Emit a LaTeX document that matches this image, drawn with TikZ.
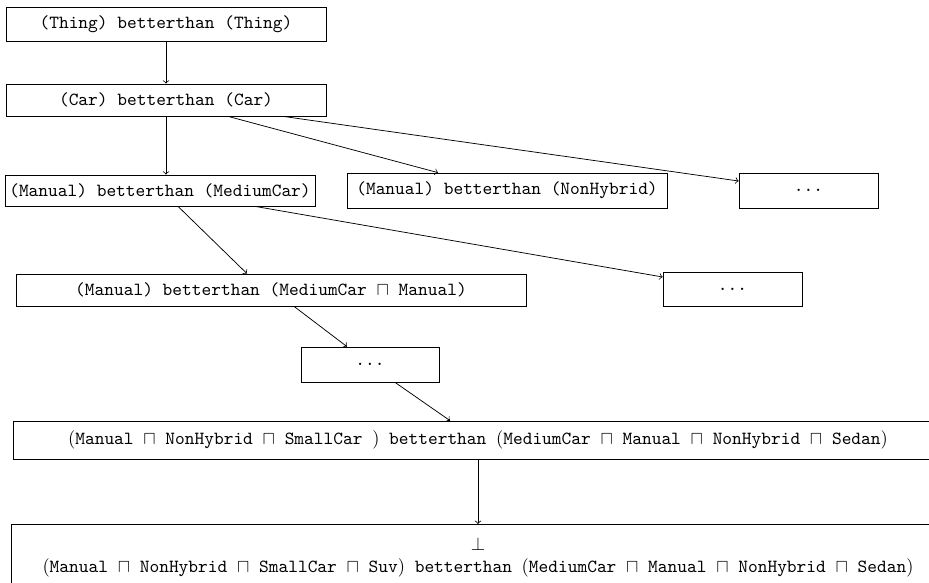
\documentclass[tikz,border=0pt]{standalone}
\usetikzlibrary{calc}
\def\pxu{0.54pt}
\tikzset{
  box/.style={draw, line width=0.4pt, font=\ttfamily, inner sep=0pt, minimum height=34*\pxu},
  conn/.style={->, line width=0.4pt},
}
\begin{document}
\begin{tikzpicture}[x=\pxu, y=-\pxu]
\path[use as bounding box, clip] (0,0) rectangle (929,583);
\node[box, minimum width=320*\pxu] (B1) at (166,24) {(Thing) betterthan (Thing)};
\node[box, minimum width=320*\pxu, minimum height=32*\pxu] (B2) at (166,100) {(Car) betterthan (Car)};
\node[box, minimum width=310*\pxu, minimum height=31*\pxu] (B3) at (160,190.5) {(Manual) betterthan (MediumCar)};
\node[box, minimum width=320*\pxu, minimum height=35*\pxu] (B4) at (507,190.5) {(Manual) betterthan (NonHybrid)};
\node[box, minimum width=139*\pxu, minimum height=35*\pxu] (B5) at (808.5,190.5) {...};
\node[box, minimum width=510*\pxu, minimum height=32*\pxu] (B6) at (271,290) {(Manual) betterthan (MediumCar $\sqcap$ Manual)};
\node[box, minimum width=139*\pxu] (B7) at (732.5,289) {...};
\node[box, minimum width=138*\pxu, minimum height=35*\pxu] (B8) at (370,364.5) {...};
\node[box, minimum width=930*\pxu, minimum height=38*\pxu] (B9) at (478,440) {$($Manual $\sqcap$ NonHybrid $\sqcap$ SmallCar $)$ betterthan $($MediumCar $\sqcap$ Manual $\sqcap$ NonHybrid $\sqcap$ Sedan$)$};
\node[box, minimum width=934*\pxu, inner xsep=0pt, inner ysep=6.9pt, align=center, anchor=north] (B10) at (478,524) {$\bot$\\$($Manual $\sqcap$ NonHybrid $\sqcap$ SmallCar $\sqcap$ Suv$)$ betterthan $($MediumCar $\sqcap$ Manual $\sqcap$ NonHybrid $\sqcap$ Sedan$)$};
\draw[conn] (B1) -- (B2);
\draw[conn] (B2.south) -- (B2.south |- B3.north);
\draw[conn] ($(B2.south)+(62,0)$) -- ($(B4.north)+(-69,0)$);
\draw[conn] ($(B2.south)+(117,0)$) -- ($(B5.west)+(0,-9.5)$);
\draw[conn] ($(B3.south)+(18,0)$) -- ($(B6.north)+(-24,0)$);
\draw[conn] ($(B3.south)+(95,0)$) -- ($(B7.west)+(0,-12)$);
\draw[conn] ($(B6.south)+(23,0)$) -- ($(B8.north)+(-23,0)$);
\draw[conn] ($(B8.south)+(25,0)$) -- ($(B9.north)+(-28,0)$);
\draw[conn] (B9.south) -- (B9.south |- B10.north);
\end{tikzpicture}
\end{document}
